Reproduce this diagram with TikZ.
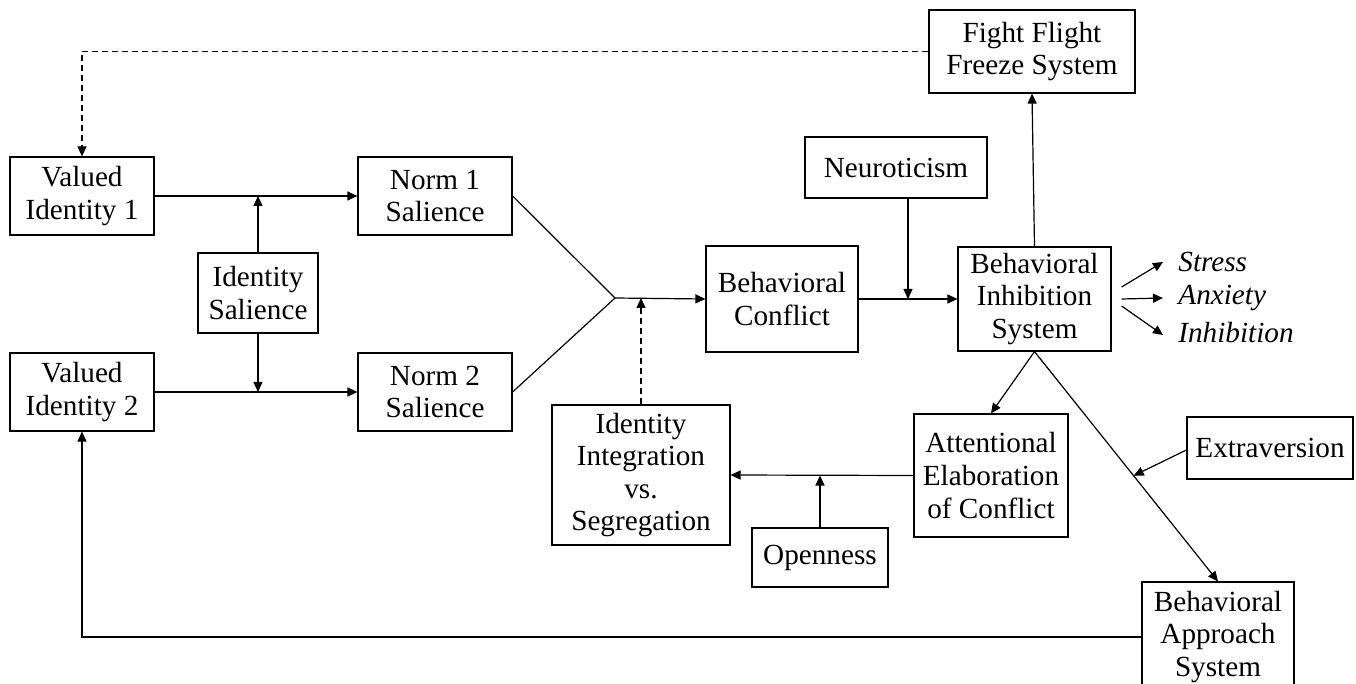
\documentclass[tikz,border=0pt]{standalone}
\usepackage{fontspec}
\setmainfont{Liberation Serif}
\usetikzlibrary{arrows.meta,calc}
\begin{document}
\begin{tikzpicture}[x=0.5pt,y=-0.5pt,
  box/.style={draw, line width=0.6pt, align=center, inner sep=0pt, font=\fontsize{14.6}{16.3}\selectfont},
  lbl/.style={inner sep=0pt, anchor=west, font=\fontsize{14.6}{16.3}\selectfont\itshape},
  conn/.style={line width=0.6pt},
  arr/.style={conn, -{Triangle[length=5pt,width=4.5pt]}},
  dsh/.style={dash pattern=on 3pt off 2pt}]
\useasboundingbox (0,0) rectangle (1356,684);
\clip (0,0) rectangle (1356,684);
\node[box, minimum width=72pt, minimum height=39pt] (vi1) at (82,196) {Valued\\Identity 1};
\node[box, minimum width=72pt, minimum height=39pt] (vi2) at (82,392) {Valued\\Identity 2};
\node[box, minimum width=77pt, minimum height=39pt] (n1) at (435,196) {Norm 1\\Salience};
\node[box, minimum width=77pt, minimum height=39pt] (n2) at (435,392) {Norm 2\\Salience};
\node[box, minimum width=60pt, minimum height=40pt] (is) at (258,293) {Identity\\Salience};
\node[box, minimum width=76pt, minimum height=53pt] (bc) at (782,299) {Behavioral\\Conflict};
\node[box, minimum width=91pt, minimum height=30.5pt] (neur) at (896,167.5) {Neuroticism};
\node[box, minimum width=103pt, minimum height=41.5pt] (fff) at (1032,51.5) {Fight Flight\\Freeze System};
\node[box, minimum width=76.5pt, minimum height=52pt] (bis) at (1034.5,299) {Behavioral\\Inhibition\\System};
\node[box, minimum width=77pt, minimum height=61.5pt] (aec) at (991,475.5) {Attentional\\Elaboration\\of Conflict};
\node[box, minimum width=83pt, minimum height=31pt] (ext) at (1270,448) {Extraversion};
\node[box, minimum width=89pt, minimum height=70pt] (iis) at (641,475) {Identity\\Integration\\vs.\\Segregation};
\node[box, minimum width=68pt, minimum height=29.5pt] (open) at (820,557.5) {Openness};
\node[box, minimum width=76pt, minimum height=55pt] (bas) at (1218,637) {Behavioral\\Approach\\System};
\node[lbl] (stress) at (1178,262) {Stress};
\node[lbl] (anx) at (1178,298) {Anxiety};
\node[lbl] (inh) at (1178,333) {Inhibition};
\coordinate (m) at (615,298);
% connectors
\draw[arr, dsh] (fff.west) -| (vi1.north);
\draw[arr] (vi1.east) -- (n1.west);
\draw[arr] (vi2.east) -- (n2.west);
\draw[arr] (is.north) -- (is.north |- vi1.east);
\draw[arr] (is.south) -- (is.south |- vi2.east);
\draw[conn] (n1.east) -- (m);
\draw[conn] (n2.east) -- (m);
\draw[arr] (m) -- (bc.west);
\draw[arr, dsh] (iis.north) -- (iis.north |- m);
\draw[arr] (bc.east) -- (bis.west);
\draw[arr] ([xshift=6pt]neur.south) -- ([xshift=6pt]neur.south |- bc.east);
\draw[arr] (bis.north) -- (fff.south);
\draw[arr] ([xshift=5pt,yshift=6pt]bis.east) -- ([xshift=-7.5pt]stress.west);
\draw[arr] ([xshift=5pt]bis.east) -- ([xshift=-7.5pt]anx.west);
\draw[arr] ([xshift=5pt,yshift=-3.5pt]bis.east) -- ([xshift=-7.5pt,yshift=-1pt]inh.west);
\draw[arr] (bis.south) -- (aec.north);
\draw[arr] (bis.south) -- (bas.north);
\draw[arr] ([yshift=-1pt]ext.west) -- ($(bis.south)!0.54!(bas.north)$);
\draw[arr] (aec.west) -- (iis.east);
\draw[arr] (open.north) -- (open.north |- aec.west);
\draw[arr] (bas.west) -| (vi2.south);
\end{tikzpicture}
\end{document}
